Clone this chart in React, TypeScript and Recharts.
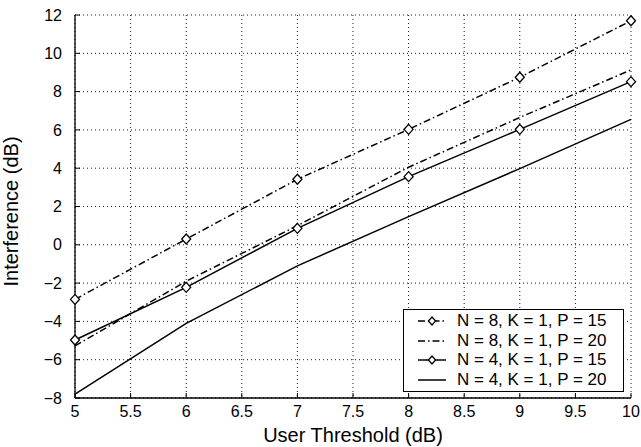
import { CartesianGrid, Line, LineChart, XAxis, YAxis } from "recharts";

const thresholds = [5, 6, 7, 8, 9, 10];
const n8p15 = [-2.85, 0.3, 3.42, 6.03, 8.75, 11.7];
const n8p20 = [-5.28, -1.9, 1.0, 4.05, 6.65, 9.13];
const n4p15 = [-4.97, -2.22, 0.86, 3.56, 6.03, 8.52];
const n4p20 = [-7.8, -4.1, -1.1, 1.47, 3.98, 6.55];

const xTicks = [5, 5.5, 6, 6.5, 7, 7.5, 8, 8.5, 9, 9.5, 10];
const yTicks = [-8, -6, -4, -2, 0, 2, 4, 6, 8, 10, 12];

const font = "'Liberation Sans', Arial, sans-serif";
const dashDot = "7 3 1.5 3";

const series = [
  { key: "n8p15", name: "N = 8, K = 1, P = 15", values: n8p15, dash: dashDot, marker: true },
  { key: "n8p20", name: "N = 8, K = 1, P = 20", values: n8p20, dash: dashDot, marker: false },
  { key: "n4p15", name: "N = 4, K = 1, P = 15", values: n4p15, dash: undefined, marker: true },
  { key: "n4p20", name: "N = 4, K = 1, P = 20", values: n4p20, dash: undefined, marker: false },
];

const data = thresholds.map((t, i) => {
  const row: Record<string, number> = { t };
  series.forEach((s) => (row[s.key] = s.values[i]));
  return row;
});

const fmt = (v: number) => (v < 0 ? "\u2212" + Math.abs(v) : String(v));

function Diamond(props: any) {
  const { cx, cy, r = 5 } = props;
  if (cx == null || cy == null) return null;
  const w = r * 0.9;
  return (
    <path
      d={`M${cx},${cy - r} L${cx + w},${cy} L${cx},${cy + r} L${cx - w},${cy} Z`}
      fill="#fff"
      stroke="#000"
      strokeWidth={1.3}
    />
  );
}

function BottomTick({ x, y, payload }: any) {
  return (
    <g>
      <line x1={x} x2={x} y1={y} y2={y - 5} stroke="#000" />
      <text x={x} y={y + 19.3} textAnchor="middle" fontSize={16} fontFamily={font} fill="#000">
        {fmt(payload.value)}
      </text>
    </g>
  );
}

function TopTick({ x, y }: any) {
  return <line x1={x} x2={x} y1={y} y2={y + 5} stroke="#000" />;
}

function LeftTick({ x, y, payload }: any) {
  return (
    <g>
      <line x1={x} x2={x + 5} y1={y} y2={y} stroke="#000" />
      <text x={x - 13} y={y + 5.6} textAnchor="end" fontSize={16} fontFamily={font} fill="#000">
        {fmt(payload.value)}
      </text>
    </g>
  );
}

function RightTick({ x, y }: any) {
  return <line x1={x} x2={x - 5} y1={y} y2={y} stroke="#000" />;
}

function ChartLegend() {
  return (
    <div
      style={{
        position: "absolute",
        left: 403,
        top: 309,
        width: 219,
        height: 80,
        border: "1.5px solid #000",
        background: "#fff",
        fontFamily: font,
        fontSize: 17,
        paddingTop: 1,
      }}
    >
      {series.map((s) => (
        <div key={s.key} style={{ display: "flex", alignItems: "center", height: 19.7, whiteSpace: "nowrap" }}>
          <svg width={52} height={16} style={{ flex: "none" }}>
            <line x1={14} x2={42} y1={8} y2={8} stroke="#000" strokeWidth={1.5} strokeDasharray={s.dash} />
            {s.marker && <Diamond cx={28} cy={8} r={4} />}
          </svg>
          <span style={{ marginLeft: 1 }}>{s.name}</span>
        </div>
      ))}
    </div>
  );
}

export default function App() {
  return (
    <div style={{ position: "absolute", left: 0, top: 0, width: 641, height: 447, background: "#fff" }}>
      <LineChart width={641} height={447} data={data} margin={{ top: 15, right: 10, left: 0, bottom: 0 }}>
        <CartesianGrid stroke="#000" strokeDasharray="1 3" strokeWidth={0.9} />
        <XAxis
          dataKey="t"
          type="number"
          domain={[5, 10]}
          ticks={xTicks}
          height={49}
          tickSize={0}
          tickMargin={0}
          tickLine={false}
          axisLine={{ stroke: "#000", strokeWidth: 1.3 }}
          tick={<BottomTick />}
          interval={0}
          label={{
            content: (p: any) => (
              <text
                x={p.viewBox.x + p.viewBox.width / 2}
                y={442}
                textAnchor="middle"
                fontSize={20}
                fontFamily={font}
                fill="#000"
              >
                User Threshold (dB)
              </text>
            ),
          }}
        />
        <XAxis
          xAxisId="top"
          orientation="top"
          dataKey="t"
          type="number"
          domain={[5, 10]}
          ticks={xTicks}
          height={0}
          tickSize={0}
          tickMargin={0}
          tickLine={false}
          axisLine={{ stroke: "#000", strokeWidth: 1.3 }}
          tick={<TopTick />}
          interval={0}
        />
        <YAxis
          type="number"
          domain={[-8, 12]}
          ticks={yTicks}
          width={75}
          tickSize={0}
          tickMargin={0}
          tickLine={false}
          axisLine={{ stroke: "#000", strokeWidth: 1.3 }}
          tick={<LeftTick />}
          interval={0}
          label={{
            content: (p: any) => (
              <text
                transform={`translate(18,${p.viewBox.y + p.viewBox.height / 2 + 5}) rotate(-90)`}
                textAnchor="middle"
                fontSize={20}
                fontFamily={font}
                fill="#000"
              >
                Interference (dB)
              </text>
            ),
          }}
        />
        <YAxis
          yAxisId="right"
          orientation="right"
          type="number"
          domain={[-8, 12]}
          ticks={yTicks}
          width={0}
          tickSize={0}
          tickMargin={0}
          tickLine={false}
          axisLine={{ stroke: "#000", strokeWidth: 1.3 }}
          tick={<RightTick />}
          interval={0}
        />
        {series.map((s) => (
          <Line
            key={s.key}
            dataKey={s.key}
            name={s.name}
            type="linear"
            stroke="#000"
            strokeWidth={1.5}
            strokeDasharray={s.dash}
            dot={s.marker ? <Diamond r={5} /> : false}
            activeDot={false}
            isAnimationActive={false}
          />
        ))}
      </LineChart>
      <ChartLegend />
    </div>
  );
}
